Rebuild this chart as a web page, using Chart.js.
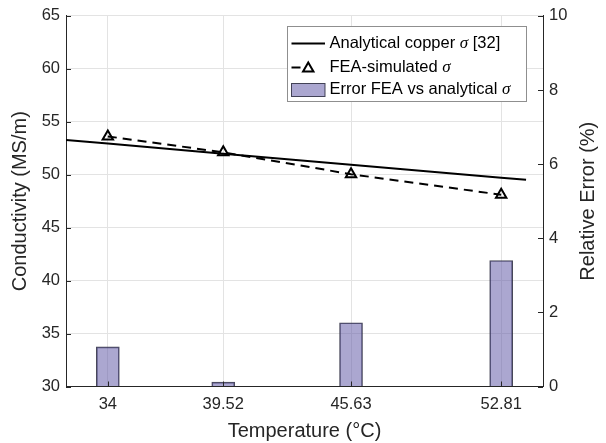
<!DOCTYPE html>
<html>
<head>
<meta charset="utf-8">
<script src="https://cdn.jsdelivr.net/npm/chart.js@4/dist/chart.umd.min.js"></script>
<style>
  html, body { margin: 0; padding: 0; background: #fff; }
  #wrap { width: 606px; height: 443px; }
</style>
</head>
<body>
<div id="wrap"><canvas id="myChart" width="606" height="443"></canvas></div>
<script>
// Values
const tempTicks = [34, 39.52, 45.63, 52.81];          // temperature (°C)
const feaSigma = [53.62, 52.12, 50.05, 48.11];         // FEA-simulated σ (MS/m)
const errorPct = [1.07, 0.12, 1.72, 3.40];             // relative error (%)
const analyticTemps = [32, 34, 39.52, 45.63, 52.81, 54];
const analyticSigma = [53.28, 52.94, 51.99, 50.95, 49.72, 49.52];
const leftTicks = [30, 35, 40, 45, 50, 55, 60, 65];
const rightTicks = [0, 2, 4, 6, 8, 10];

const axisColor = '#262626';
const gridColor = '#e3e3e3';
const barFill = 'rgba(102, 95, 170, 0.55)';
const barEdge = 'rgba(40, 40, 60, 0.85)';
const fontFamily = '"Liberation Sans", Arial, sans-serif';
const titleFont = '20px ' + fontFamily;

Chart.defaults.font.family = fontFamily;
Chart.defaults.color = axisColor;

const toPoints = (xs, ys) => xs.map((x, i) => ({ x: x, y: ys[i] }));

// MATLAB style ticks pointing into the plot
const inwardTicks = {
    id: 'inwardTicks',
    afterDraw(chart) {
        const { ctx, chartArea: a, scales } = chart;
        const len = 5;
        ctx.save();
        ctx.strokeStyle = axisColor;
        ctx.lineWidth = 1;
        ctx.beginPath();
        scales.y.ticks.forEach(t => {
            const p = Math.round(scales.y.getPixelForValue(t.value)) + 0.5;
            ctx.moveTo(a.left, p); ctx.lineTo(a.left + len, p);
        });
        scales.y1.ticks.forEach(t => {
            const p = Math.round(scales.y1.getPixelForValue(t.value)) + 0.5;
            ctx.moveTo(a.right, p); ctx.lineTo(a.right - len, p);
        });
        scales.x.ticks.forEach(t => {
            const p = Math.round(scales.x.getPixelForValue(t.value)) + 0.5;
            ctx.moveTo(p, a.bottom); ctx.lineTo(p, a.bottom - len);
        });
        ctx.stroke();

        // right axis title reads bottom to top, like the left one
        ctx.font = titleFont;
        ctx.fillStyle = axisColor;
        ctx.textAlign = 'center';
        ctx.textBaseline = 'middle';
        ctx.translate(588, (a.top + a.bottom) / 2);
        ctx.rotate(-Math.PI / 2);
        ctx.fillText('Relative Error (%)', 0, 0);
        ctx.restore();
    }
};

function drawTriangle(ctx, x, y, r) {
    ctx.beginPath();
    ctx.moveTo(x, y - r);
    ctx.lineTo(x + r * Math.sin(2 * Math.PI / 3), y + r * 0.5);
    ctx.lineTo(x - r * Math.sin(2 * Math.PI / 3), y + r * 0.5);
    ctx.closePath();
    ctx.stroke();
}

// legend box in the upper right, with an italic sigma
const boxLegend = {
    id: 'boxLegend',
    afterDraw(chart) {
        const ctx = chart.ctx;
        const ds = chart.data.datasets;
        const bx = 287.5, by = 26.5, bw = 239, bh = 75;
        const sx0 = 291.5, sx1 = 325, tx = 329.5;
        const rows = [43.5, 67.5, 89.5];
        ctx.save();
        ctx.fillStyle = '#fff';
        ctx.fillRect(bx, by, bw, bh);
        ctx.strokeStyle = '#8f8f8f';
        ctx.lineWidth = 1;
        ctx.strokeRect(bx, by, bw, bh);

        // analytical
        ctx.strokeStyle = ds[0].borderColor;
        ctx.lineWidth = ds[0].borderWidth;
        ctx.beginPath(); ctx.moveTo(sx0, rows[0]); ctx.lineTo(sx1, rows[0]); ctx.stroke();
        // FEA
        ctx.strokeStyle = ds[1].borderColor;
        ctx.lineWidth = ds[1].borderWidth;
        ctx.setLineDash(ds[1].borderDash);
        ctx.beginPath(); ctx.moveTo(sx0, rows[1]); ctx.lineTo(sx0 + 10, rows[1]); ctx.stroke();
        ctx.setLineDash([]);
        ctx.lineWidth = ds[1].pointBorderWidth;
        drawTriangle(ctx, (sx0 + sx1) / 2, rows[1] + 1, ds[1].pointRadius);
        // error bars
        ctx.fillStyle = ds[2].backgroundColor;
        ctx.fillRect(sx0, 83.5, sx1 - sx0, 13);
        ctx.strokeStyle = ds[2].borderColor;
        ctx.lineWidth = 1;
        ctx.strokeRect(sx0, 83.5, sx1 - sx0, 13);

        const parts = [
            ['Analytical copper ', 'σ', ' [32]'],
            ['FEA-simulated ', 'σ', ''],
            ['Error FEA vs analytical ', 'σ', '']
        ];
        ctx.fillStyle = '#000';
        ctx.textBaseline = 'middle';
        ctx.textAlign = 'left';
        const normal = '16.5px ' + fontFamily;
        const ital = 'italic 17px "Liberation Serif", serif';
        parts.forEach((p, i) => {
            let x = tx;
            ctx.font = normal; ctx.fillText(p[0], x, rows[i]); x += ctx.measureText(p[0]).width;
            ctx.font = ital; ctx.fillText(p[1], x, rows[i]); x += ctx.measureText(p[1]).width;
            ctx.font = normal; ctx.fillText(p[2], x, rows[i]);
        });
        ctx.restore();
    }
};

const ctx = document.getElementById('myChart').getContext('2d');
const myChart = new Chart(ctx, {
    type: 'bar',
    data: {
        datasets: [{
            type: 'line',
            label: 'Analytical copper σ [32]',
            data: toPoints(analyticTemps, analyticSigma),
            borderColor: '#000',
            borderWidth: 2,
            pointRadius: 0,
            tension: 0,
            yAxisID: 'y',
            order: 1
        }, {
            type: 'line',
            label: 'FEA-simulated σ',
            data: toPoints(tempTicks, feaSigma),
            borderColor: '#000',
            borderWidth: 2,
            borderDash: [9, 6],
            pointStyle: 'triangle',
            pointRadius: 6,
            pointBorderWidth: 2,
            pointBorderColor: '#000',
            pointBackgroundColor: 'rgba(0,0,0,0)',
            tension: 0,
            yAxisID: 'y',
            order: 2
        }, {
            type: 'bar',
            label: 'Error FEA vs analytical σ',
            data: toPoints(tempTicks, errorPct),
            backgroundColor: barFill,
            borderColor: barEdge,
            borderWidth: 1,
            barThickness: 23,
            yAxisID: 'y1',
            order: 3
        }]
    },
    options: {
        responsive: false,
        animation: false,
        layout: { padding: { top: 13, left: 0, right: 0, bottom: 0 } },
        plugins: {
            legend: { display: false },
            tooltip: { enabled: false }
        },
        scales: {
            x: {
                type: 'linear',
                min: 32,
                max: 54.81,
                offset: false,
                afterBuildTicks: s => { s.ticks = tempTicks.map(v => ({ value: v })); },
                afterFit: s => { s.height = 56.5; },
                ticks: { callback: v => String(v), padding: 8, maxRotation: 0, autoSkip: false, font: { size: 16.5 } },
                grid: { color: gridColor, drawTicks: false, offset: false },
                border: { color: axisColor, width: 1 },
                title: { display: true, text: 'Temperature (°C)', font: { size: 20 }, padding: { top: 4, bottom: 0 } }
            },
            y: {
                position: 'left',
                min: 30,
                max: 65,
                afterBuildTicks: s => { s.ticks = leftTicks.map(v => ({ value: v })); },
                afterFit: s => { s.width = 66; },
                ticks: { padding: 6, font: { size: 16.5 } },
                grid: { color: gridColor, drawTicks: false },
                border: { color: axisColor, width: 1 },
                title: { display: true, text: 'Conductivity (MS/m)', font: { size: 20 }, padding: { top: 8, bottom: 0 } }
            },
            y1: {
                position: 'right',
                min: 0,
                max: 10,
                afterBuildTicks: s => { s.ticks = rightTicks.map(v => ({ value: v })); },
                afterFit: s => { s.width = 63; },
                ticks: { padding: 6, font: { size: 16.5 } },
                grid: { drawOnChartArea: false, drawTicks: false },
                border: { color: axisColor, width: 1 },
                title: { display: false }
            }
        }
    },
    plugins: [inwardTicks, boxLegend]
});
</script>
</body>
</html>
